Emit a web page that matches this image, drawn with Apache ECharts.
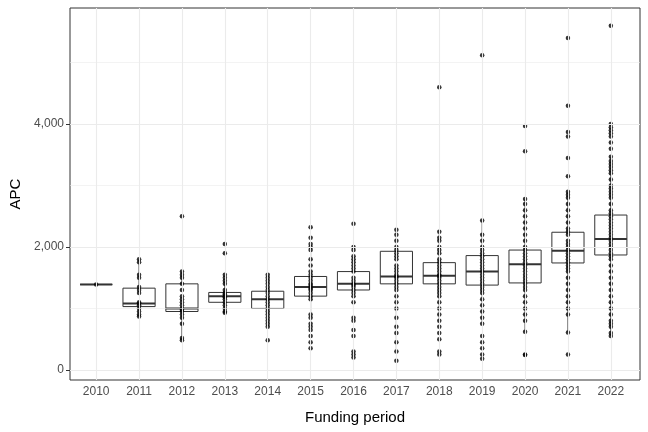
<!DOCTYPE html>
<html><head><meta charset="utf-8">
<script src="https://cdn.jsdelivr.net/npm/echarts@6/dist/echarts.min.js"></script>
<style>html,body{margin:0;padding:0;background:#fff}#c{width:648px;height:432px}</style>
</head><body><div id="c"></div>
<script>
const years = [2010,2011,2012,2013,2014,2015,2016,2017,2018,2019,2020,2021,2022];
// [min whisker, Q1, median, Q3, max whisker]
const boxStats = [
 [1390,1390,1390,1390,1390],
 [880,1030,1080,1330,1800],
 [480,950,1000,1400,1600],
 [930,1100,1200,1260,1450],
 [700,1000,1150,1280,1550],
 [750,1200,1350,1520,2000],
 [950,1300,1400,1600,2000],
 [300,1400,1520,1930,2280],
 [760,1400,1530,1745,2280],
 [780,1380,1600,1860,2430],
 [620,1415,1720,1950,2780],
 [610,1740,1940,2240,2900],
 [550,1870,2130,2520,3470]
];
const pts2010 = [1390];
const pts2011 = [1800,1750,1550,1500,1350,1300,1250,1100,1080,1050,1000,950,900,870];
const pts2012 = [2500,1600,1550,1500,1400,1300,1200,1150,1100,1050,1000,980,950,900,850,750,520,480];
const pts2013 = [2050,1900,1550,1500,1450,1400,1300,1250,1230,1200,1180,1150,1100,1050,1000,950,930];
const pts2014 = [1550,1500,1450,1400,1350,1300,1250,1200,1150,1100,1050,1000,950,900,850,800,750,700,480];
const pts2015 = [2320,2150,2050,2000,1950,1800,1700,1600,1550,1500,1450,1400,1380,1350,1320,1300,1250,1200,1150,900,850,750,700,650,550,450,350];
const pts2016 = [2380,2000,1950,1850,1800,1750,1700,1650,1600,1500,1450,1400,1380,1350,1300,1250,1200,1100,850,800,650,550,300,250,200];
const pts2017 = [2280,2200,2100,2000,1950,1900,1850,1800,1700,1650,1600,1550,1520,1500,1450,1400,1350,1300,1200,1100,1000,850,700,600,450,300,150];
const pts2018 = [4600,2250,2150,2100,2000,1950,1900,1800,1750,1700,1650,1600,1550,1530,1500,1450,1400,1350,1300,1250,1200,1100,1000,900,800,700,600,500,300,250];
const pts2019 = [5120,2430,2200,2100,2000,1950,1900,1850,1800,1750,1700,1650,1600,1550,1500,1450,1400,1350,1300,1250,1150,1050,950,850,750,550,450,350,250,180];
const pts2020 = [3970,3560,2780,2700,2600,2500,2400,2300,2200,2100,2000,1950,1900,1850,1800,1750,1700,1650,1600,1550,1500,1450,1400,1350,1300,1200,1100,1000,900,800,620,250,240];
const pts2021 = [5400,4300,3870,3800,3450,3150,2900,2850,2800,2700,2600,2500,2400,2300,2250,2200,2100,2050,2000,1950,1900,1850,1800,1750,1700,1650,1600,1500,1400,1300,1200,1100,1000,900,610,250];
const pts2022 = [5600,4000,3950,3900,3850,3800,3700,3600,3470,3400,3350,3300,3250,3200,3100,3000,2950,2900,2850,2800,2700,2600,2550,2500,2450,2400,2350,2300,2250,2200,2150,2100,2050,2000,1950,1900,1850,1800,1700,1600,1500,1400,1300,1200,1100,1000,900,800,750,700,600,550];
const allPts = [pts2010,pts2011,pts2012,pts2013,pts2014,pts2015,pts2016,pts2017,pts2018,pts2019,pts2020,pts2021,pts2022];
const yTicks = [0,2000,4000];
const yMinor = [1000,3000,5000];

const scatterData = [];
allPts.forEach((a,i)=>a.forEach(v=>scatterData.push([years[i],v])));
const boxData = boxStats.map((s,i)=>[years[i]].concat(s));
const gridCol = '#ebebeb';
const vLines = years.map(y=>({xAxis:y}));
const hLines = yTicks.map(v=>({yAxis:v,lineStyle:{width:1.1}})).concat(yMinor.map(v=>({yAxis:v,lineStyle:{width:0.6}})));

const chart = echarts.init(document.getElementById('c'));
chart.setOption({
  animation:false,
  textStyle:{fontFamily:'Liberation Sans, Arial, sans-serif'},
  grid:{left:70,right:8,top:8,bottom:52,show:true,borderColor:'#333',borderWidth:1,backgroundColor:'#fff'},
  xAxis:{type:'value',min:2009.39,max:2022.68,
    name:'Funding period',nameLocation:'middle',nameGap:30,nameTextStyle:{fontSize:15,color:'#000'},
    axisLine:{show:false},splitLine:{show:false},
    axisTick:{show:true,length:4,lineStyle:{color:'#333'},customValues:years},
    axisLabel:{color:'#4d4d4d',fontSize:12,margin:6,customValues:years,formatter:v=>String(v)}},
  yAxis:{type:'value',min:-165,max:5890,
    name:'APC',nameLocation:'middle',nameGap:45,nameTextStyle:{fontSize:15,color:'#000'},
    axisLine:{show:false},splitLine:{show:false},
    axisTick:{show:true,length:4,lineStyle:{color:'#333'},customValues:yTicks},
    axisLabel:{color:'#4d4d4d',fontSize:12,margin:6,customValues:yTicks}},
  series:[
    {type:'line',data:[],silent:true,z:1,
     markLine:{silent:true,symbol:'none',label:{show:false},lineStyle:{color:gridCol,type:'solid',width:1.1},
       data:vLines.concat(hLines)}},
    {type:'custom',z:2,data:boxData,
     renderItem:(params,api)=>{
       const x=api.value(0);
       const p=v=>api.coord([x,v]);
       const half=(api.coord([x+0.375,0])[0]-api.coord([x,0])[0]);
       const lo=p(api.value(1)),q1=p(api.value(2)),md=p(api.value(3)),q3=p(api.value(4)),hi=p(api.value(5));
       const st={stroke:'#333',lineWidth:1,fill:null};
       return {type:'group',children:[
         {type:'line',shape:{x1:lo[0],y1:lo[1],x2:q1[0],y2:q1[1]},style:st},
         {type:'line',shape:{x1:q3[0],y1:q3[1],x2:hi[0],y2:hi[1]},style:st},
         {type:'rect',shape:{x:q3[0]-half,y:q3[1],width:2*half,height:q1[1]-q3[1]},style:{stroke:'#333',lineWidth:1,fill:'#fff'}},
         {type:'line',shape:{x1:md[0]-half,y1:md[1],x2:md[0]+half,y2:md[1]},style:{stroke:'#333',lineWidth:2}}
       ]};
     }},
    {type:'scatter',z:3,data:scatterData,symbolSize:4.5,itemStyle:{color:'#000'}}
  ]
});
</script></body></html>
